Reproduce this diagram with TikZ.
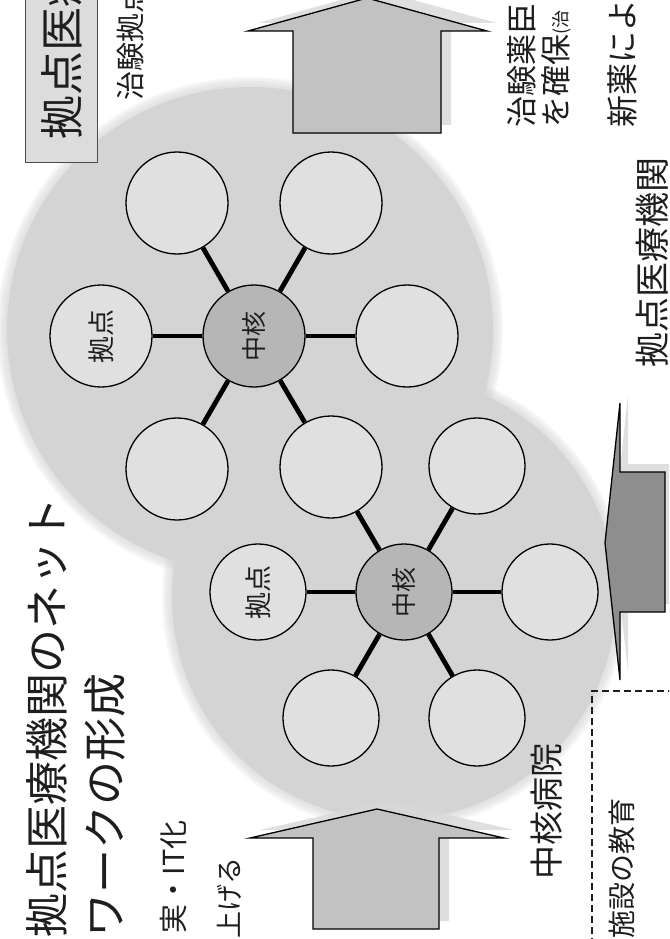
\documentclass[tikz,border=0pt]{standalone}
\usepackage{fontspec}
\newfontfamily\jp{Noto Sans CJK JP}
\definecolor{blobgray}{HTML}{D4D4D4}
\definecolor{satgray}{HTML}{E0E0E0}
\definecolor{hubgray}{HTML}{B6B6B6}
\definecolor{arrowgray}{HTML}{C2C2C2}
\definecolor{darkarrow}{HTML}{8E8E8E}
\definecolor{shadowgray}{HTML}{D8D8D8}
\definecolor{boxgray}{HTML}{DCDCDC}
\definecolor{ink}{HTML}{1E1E1E}
\tikzset{
  sat/.style={circle, draw=black, line width=1.3pt, fill=satgray, minimum size=102pt, inner sep=0pt, font=\jp\fontsize{27}{27}\selectfont, text=ink},
  satsm/.style={sat, minimum size=96pt},
  hub/.style={circle, draw=black, line width=1.3pt, fill=hubgray, minimum size=102pt, inner sep=0pt, font=\jp\fontsize{25}{25}\selectfont, text=ink},
  hubsm/.style={hub, minimum size=96pt},
  link/.style={line width=4.8pt, black},
  vtext/.style={rotate=90, inner sep=0pt, text=ink},
  bigarrow/.style={draw=black, line width=1.3pt, line join=miter},
  arrshadow/.style={fill=shadowgray, opacity=0.8},
  dashbox/.style={draw=ink, line width=1.2pt, dash pattern=on 7pt off 4pt},
}
\begin{document}
\begin{tikzpicture}[x=1pt,y=-1pt]
\useasboundingbox (0,0) rectangle (669,939);
\clip (0,0) rectangle (669,939);
\fill[white] (0,0) rectangle (669,939);

% soft edges of the grey background blobs
\foreach \k in {1,...,5}{
  \fill[blobgray, opacity=0.18] (250,330) circle ({243+2*\k});
  \fill[blobgray, opacity=0.18] (394,598) circle ({222+2*\k});
}
\fill[blobgray] (250,330) circle (243);
\fill[blobgray] (394,598) circle (222);

% arrows (with light shadows)
\fill[arrshadow] (377,-10) -- (497,23) -- (451,23) -- (451,125) -- (303,125) -- (303,23) -- (258,23) -- cycle;
\path[bigarrow, fill=arrowgray] (367,-2) -- (487,31) -- (441,31) -- (441,133) -- (293,133) -- (293,31) -- (248,31) -- cycle;

\fill[arrshadow] (387,801) -- (514,830) -- (449,830) -- (449,921) -- (323,921) -- (323,830) -- (260,830) -- cycle;
\path[bigarrow, fill=arrowgray] (377,809) -- (504,838) -- (439,838) -- (439,929) -- (313,929) -- (313,838) -- (250,838) -- cycle;

\fill[arrshadow] (613,535) -- (628,395) -- (628,464) -- (673,464) -- (673,604) -- (628,604) -- (628,672) -- cycle;
\path[bigarrow, fill=darkarrow] (605,543) -- (620,403) -- (620,472) -- (665,472) -- (665,612) -- (620,612) -- (620,680) -- cycle;

% top network
\node[hub] (th) at (254,336) {\rotatebox{90}{中核}};
\node[sat] (tl) at (101,336) {\rotatebox{90}{拠点}};
\node[sat] (tr) at (407,336) {};
\node[sat] (tul) at (177,203) {};
\node[sat] (tur) at (331,203) {};
\node[sat] (tdl) at (177,469) {};
\node[sat] (sh) at (331,467) {};

% bottom network
\node[hubsm] (bh) at (404,592) {\rotatebox{90}{中核}};
\node[satsm] (bl) at (258,592) {\rotatebox{90}{拠点}};
\node[satsm] (br) at (550,592) {};
\node[satsm] (bur) at (477,466) {};
\node[satsm] (bdl) at (331,718) {};
\node[satsm] (bdr) at (477,718) {};

\foreach \s in {tl,tr,tul,tur,tdl,sh}{ \draw[link] (th) -- (\s); }
\foreach \s in {bl,br,bur,bdl,bdr,sh}{ \draw[link] (bh) -- (\s); }

% top-left box
\node[draw=ink!80, line width=1pt, fill=boxgray, minimum width=72pt, minimum height=180pt, inner sep=0pt] (box) at (61,72) {};
\node[vtext, anchor=west, font=\jp\fontsize{44}{44}\selectfont] (boxt) at (62,140) {拠点医療};
\node[vtext, anchor=west, font=\jp\fontsize{29}{29}\selectfont] (chiken) at (130,101) {治験拠点};

% title texts on the left
\node[vtext, anchor=west, font=\jp\fontsize{44}{44}\selectfont] (title1) at (47,938) {拠点医療機関のネット};
\node[vtext, anchor=west, font=\jp\fontsize{44}{44}\selectfont] (title2) at (105,938) {ワークの形成};
\node[vtext, anchor=east, font=\jp\fontsize{29}{29}\selectfont] (it) at (174,820) {実・IT化};
\node[vtext, anchor=east, font=\jp\fontsize{27}{27}\selectfont] (ageru) at (229,857) {上げる};

% right side texts
\node[vtext, anchor=west, font=\jp\fontsize{31}{31}\selectfont] (r1) at (522,128) {治験薬臣};
\node[vtext, anchor=west, font=\jp\fontsize{31}{31}\selectfont] (r2) at (556,128) {を確保{\fontsize{18}{18}\selectfont (治}};
\node[vtext, anchor=west, font=\jp\fontsize{32}{32}\selectfont] (r3) at (622,128) {新薬によ};
\node[vtext, anchor=west, font=\jp\fontsize{35}{35}\selectfont] (r4) at (652,368) {拠点医療機関};

% bottom right
\node[vtext, anchor=west, font=\jp\fontsize{34}{34}\selectfont] (chukaku) at (547,880) {中核病院};
\draw[dashbox] (592,945) -- (592,691) -- (675,691);
\node[vtext, anchor=west, font=\jp\fontsize{28}{28}\selectfont] (kyoiku) at (622,939) {施設の教育};
\end{tikzpicture}
\end{document}
